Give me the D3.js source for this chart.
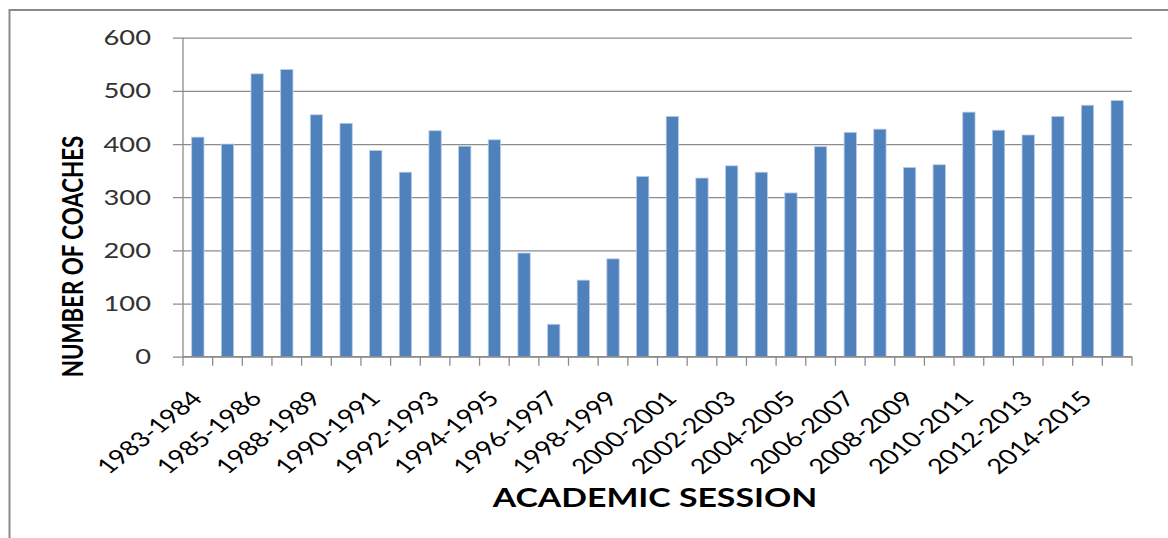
<!DOCTYPE html>
<html>
<head>
<meta charset="utf-8">
<script src="https://cdn.jsdelivr.net/npm/d3@7"></script>
<style>
  html, body { margin: 0; padding: 0; background: #fff; }
  svg { display: block; }
  text { font-family: Lato, "Open Sans", sans-serif; }
</style>
</head>
<body>
<svg id="chart" width="1168" height="538"></svg>
<script>
// Academic sessions (one bar each); every other one carries a label
const sessions = [
  "1983-1984", "1984-1985", "1985-1986", "1987-1988", "1988-1989", "1989-1990",
  "1990-1991", "1991-1992", "1992-1993", "1993-1994", "1994-1995", "1995-1996",
  "1996-1997", "1997-1998", "1998-1999", "1999-2000", "2000-2001", "2001-2002",
  "2002-2003", "2003-2004", "2004-2005", "2005-2006", "2006-2007", "2007-2008",
  "2008-2009", "2009-2010", "2010-2011", "2011-2012", "2012-2013", "2013-2014",
  "2014-2015", "2015-2016"
];

// Number of coaches per session
const coaches = [
  413, 400, 532, 540, 455, 439, 388, 347, 425, 396, 408, 195,
  61, 144, 184, 339, 452, 336, 359, 347, 308, 395, 422, 428,
  356, 361, 460, 426, 417, 452, 473, 482
];

const labelledSessions = sessions.filter((d, i) => i % 2 === 0);
const yTicks = [0, 100, 200, 300, 400, 500, 600];

const svg = d3.select("#chart");
const W = 1168, H = 538;
const STRETCH = 1.3;           // horizontal widening applied to all text
const plot = { left: 183, right: 1132, top: 37.7, bottom: 356.7 };

svg.append("rect").attr("width", W).attr("height", H).attr("fill", "#fff");

// chart frame (top and left edges visible)
svg.append("rect")
  .attr("x", 9.5).attr("y", 10)
  .attr("width", 1300).attr("height", 700)
  .attr("fill", "none")
  .attr("stroke", "#8a8a8a")
  .attr("stroke-width", 2);

const x = d3.scaleBand()
  .domain(sessions)
  .range([plot.left, plot.right])
  .paddingInner(0.585)
  .paddingOuter(0.2925);

const y = d3.scaleLinear()
  .domain([0, 600])
  .range([plot.bottom, plot.top]);

// horizontal gridlines with short ticks to the left of the axis
const yAxis = d3.axisLeft(y)
  .tickValues(yTicks)
  .tickSize(-(plot.right - plot.left))
  .tickFormat("");
const gy = svg.append("g")
  .attr("transform", `translate(${plot.left},0)`)
  .call(yAxis);
gy.select(".domain").remove();
gy.selectAll(".tick line")
  .attr("x1", -10)
  .attr("stroke", "#8c8c8c")
  .attr("stroke-width", 1.3);

// vertical axis line
svg.append("line")
  .attr("x1", plot.left).attr("x2", plot.left)
  .attr("y1", plot.top).attr("y2", plot.bottom)
  .attr("stroke", "#8c8c8c").attr("stroke-width", 1.3);

// y tick labels
svg.append("g").selectAll("text")
  .data(yTicks)
  .join("text")
  .attr("transform", d => `translate(151,${y(d)}) scale(${STRETCH},1)`)
  .attr("text-anchor", "end")
  .attr("dy", "0.36em")
  .attr("font-size", 21)
  .attr("fill", "#333")
  .text(d => d);

// bars
svg.append("g").selectAll("rect")
  .data(sessions)
  .join("rect")
  .attr("x", d => x(d))
  .attr("width", x.bandwidth())
  .attr("y", (d, i) => y(coaches[i]))
  .attr("height", (d, i) => plot.bottom - y(coaches[i]))
  .attr("fill", "#4f81bd")
  .attr("stroke", "#b9cde5")
  .attr("stroke-width", 0.8);

// x axis with ticks on category boundaries
const step = x.step();
const boundaries = d3.range(sessions.length + 1).map(i => plot.left + i * step);
svg.append("line")
  .attr("x1", plot.left).attr("x2", plot.right)
  .attr("y1", plot.bottom).attr("y2", plot.bottom)
  .attr("stroke", "#8c8c8c").attr("stroke-width", 1.3);
svg.append("g").selectAll("line")
  .data(boundaries)
  .join("line")
  .attr("x1", d => d).attr("x2", d => d)
  .attr("y1", plot.bottom).attr("y2", plot.bottom + 9)
  .attr("stroke", "#8c8c8c").attr("stroke-width", 1.3);

// rotated session labels
svg.append("g").selectAll("text")
  .data(labelledSessions)
  .join("text")
  .attr("transform", d => `translate(${x(d) + x.bandwidth() / 2 + 6},${plot.bottom + 43}) scale(${STRETCH},1) rotate(-46)`)
  .attr("text-anchor", "end")
  .attr("font-size", 21)
  .attr("fill", "#000")
  .text(d => d);

// axis titles
svg.append("text")
  .attr("transform", `translate(655,507) scale(${STRETCH},1)`)
  .attr("text-anchor", "middle")
  .attr("font-size", 26)
  .attr("font-weight", "bold")
  .attr("fill", "#000")
  .text("ACADEMIC SESSION");

svg.append("text")
  .attr("transform", `translate(83,256.5) scale(${STRETCH},1) rotate(-90)`)
  .attr("text-anchor", "middle")
  .attr("font-size", 22.3)
  .attr("font-weight", "bold")
  .attr("fill", "#000")
  .text("NUMBER OF COACHES");
</script>
</body>
</html>
